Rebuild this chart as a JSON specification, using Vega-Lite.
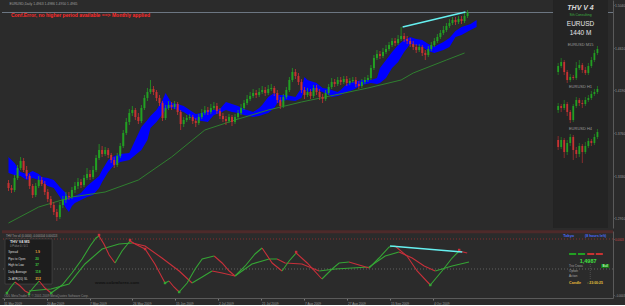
{
  "$schema": "https://vega.github.io/schema/vega-lite/v6.json",
  "background": "#2b2b2b",
  "padding": 0,
  "spacing": 2,
  "config": {
    "view": {"stroke": null},
    "font": "Liberation Sans",
    "axis": {"grid": false, "labelFont": "Liberation Sans", "labelColor": "#9a9a9a", "tickColor": "#777777", "domainColor": "#5a5a5a"}
  },
  "datasets": {
    "candles": [
      {"i":0,"o":1.326,"h":1.329,"l":1.318,"c":1.321},{"i":1,"o":1.321,"h":1.324,"l":1.316,"c":1.319},{"i":2,"o":1.319,"h":1.334,"l":1.317,"c":1.331},{"i":3,"o":1.331,"h":1.344,"l":1.329,"c":1.341},{"i":4,"o":1.341,"h":1.352,"l":1.339,"c":1.348},{"i":5,"o":1.348,"h":1.351,"l":1.337,"c":1.339},{"i":6,"o":1.339,"h":1.343,"l":1.330,"c":1.333},{"i":7,"o":1.333,"h":1.335,"l":1.320,"c":1.323},{"i":8,"o":1.323,"h":1.325,"l":1.311,"c":1.314},{"i":9,"o":1.314,"h":1.326,"l":1.312,"c":1.323},
      {"i":10,"o":1.323,"h":1.333,"l":1.321,"c":1.329},{"i":11,"o":1.329,"h":1.332,"l":1.323,"c":1.325},{"i":12,"o":1.325,"h":1.328,"l":1.314,"c":1.317},{"i":13,"o":1.317,"h":1.320,"l":1.307,"c":1.310},{"i":14,"o":1.310,"h":1.313,"l":1.301,"c":1.304},{"i":15,"o":1.304,"h":1.307,"l":1.294,"c":1.297},{"i":16,"o":1.297,"h":1.300,"l":1.288,"c":1.292},{"i":17,"o":1.292,"h":1.307,"l":1.290,"c":1.304},{"i":18,"o":1.304,"h":1.313,"l":1.301,"c":1.309},{"i":19,"o":1.309,"h":1.317,"l":1.306,"c":1.313},
      {"i":20,"o":1.313,"h":1.317,"l":1.309,"c":1.312},{"i":21,"o":1.312,"h":1.322,"l":1.310,"c":1.319},{"i":22,"o":1.319,"h":1.327,"l":1.316,"c":1.323},{"i":23,"o":1.323,"h":1.331,"l":1.320,"c":1.327},{"i":24,"o":1.327,"h":1.330,"l":1.321,"c":1.324},{"i":25,"o":1.324,"h":1.334,"l":1.322,"c":1.331},{"i":26,"o":1.331,"h":1.341,"l":1.329,"c":1.335},{"i":27,"o":1.335,"h":1.339,"l":1.329,"c":1.332},{"i":28,"o":1.332,"h":1.343,"l":1.330,"c":1.339},{"i":29,"o":1.339,"h":1.354,"l":1.337,"c":1.351},
      {"i":30,"o":1.351,"h":1.365,"l":1.349,"c":1.359},{"i":31,"o":1.359,"h":1.363,"l":1.352,"c":1.355},{"i":32,"o":1.355,"h":1.362,"l":1.353,"c":1.359},{"i":33,"o":1.359,"h":1.361,"l":1.351,"c":1.354},{"i":34,"o":1.354,"h":1.356,"l":1.346,"c":1.349},{"i":35,"o":1.349,"h":1.352,"l":1.341,"c":1.344},{"i":36,"o":1.344,"h":1.356,"l":1.342,"c":1.353},{"i":37,"o":1.353,"h":1.366,"l":1.351,"c":1.363},{"i":38,"o":1.363,"h":1.379,"l":1.361,"c":1.376},{"i":39,"o":1.376,"h":1.391,"l":1.374,"c":1.387},
      {"i":40,"o":1.387,"h":1.400,"l":1.384,"c":1.396},{"i":41,"o":1.396,"h":1.403,"l":1.393,"c":1.399},{"i":42,"o":1.399,"h":1.401,"l":1.389,"c":1.392},{"i":43,"o":1.392,"h":1.396,"l":1.385,"c":1.388},{"i":44,"o":1.388,"h":1.404,"l":1.386,"c":1.401},{"i":45,"o":1.401,"h":1.414,"l":1.399,"c":1.411},{"i":46,"o":1.411,"h":1.421,"l":1.408,"c":1.417},{"i":47,"o":1.417,"h":1.429,"l":1.415,"c":1.420},{"i":48,"o":1.420,"h":1.423,"l":1.414,"c":1.417},{"i":49,"o":1.417,"h":1.419,"l":1.408,"c":1.411},
      {"i":50,"o":1.411,"h":1.414,"l":1.403,"c":1.406},{"i":51,"o":1.406,"h":1.408,"l":1.388,"c":1.391},{"i":52,"o":1.391,"h":1.404,"l":1.389,"c":1.401},{"i":53,"o":1.401,"h":1.408,"l":1.399,"c":1.404},{"i":54,"o":1.404,"h":1.407,"l":1.399,"c":1.402},{"i":55,"o":1.402,"h":1.408,"l":1.400,"c":1.405},{"i":56,"o":1.405,"h":1.407,"l":1.394,"c":1.397},{"i":57,"o":1.397,"h":1.399,"l":1.379,"c":1.385},{"i":58,"o":1.385,"h":1.392,"l":1.382,"c":1.389},{"i":59,"o":1.389,"h":1.394,"l":1.387,"c":1.391},
      {"i":60,"o":1.391,"h":1.395,"l":1.389,"c":1.392},{"i":61,"o":1.392,"h":1.394,"l":1.385,"c":1.388},{"i":62,"o":1.388,"h":1.391,"l":1.382,"c":1.386},{"i":63,"o":1.386,"h":1.395,"l":1.384,"c":1.392},{"i":64,"o":1.392,"h":1.400,"l":1.390,"c":1.396},{"i":65,"o":1.396,"h":1.403,"l":1.394,"c":1.399},{"i":66,"o":1.399,"h":1.402,"l":1.394,"c":1.397},{"i":67,"o":1.397,"h":1.405,"l":1.395,"c":1.401},{"i":68,"o":1.401,"h":1.407,"l":1.399,"c":1.403},{"i":69,"o":1.403,"h":1.406,"l":1.395,"c":1.398},
      {"i":70,"o":1.398,"h":1.401,"l":1.390,"c":1.393},{"i":71,"o":1.393,"h":1.396,"l":1.387,"c":1.390},{"i":72,"o":1.390,"h":1.393,"l":1.384,"c":1.388},{"i":73,"o":1.388,"h":1.395,"l":1.386,"c":1.392},{"i":74,"o":1.392,"h":1.394,"l":1.383,"c":1.387},{"i":75,"o":1.387,"h":1.395,"l":1.385,"c":1.392},{"i":76,"o":1.392,"h":1.399,"l":1.390,"c":1.396},{"i":77,"o":1.396,"h":1.405,"l":1.394,"c":1.401},{"i":78,"o":1.401,"h":1.409,"l":1.399,"c":1.406},{"i":79,"o":1.406,"h":1.414,"l":1.404,"c":1.410},
      {"i":80,"o":1.410,"h":1.417,"l":1.408,"c":1.413},{"i":81,"o":1.413,"h":1.420,"l":1.411,"c":1.416},{"i":82,"o":1.416,"h":1.419,"l":1.411,"c":1.414},{"i":83,"o":1.414,"h":1.421,"l":1.412,"c":1.417},{"i":84,"o":1.417,"h":1.423,"l":1.415,"c":1.419},{"i":85,"o":1.419,"h":1.422,"l":1.413,"c":1.416},{"i":86,"o":1.416,"h":1.424,"l":1.414,"c":1.420},{"i":87,"o":1.420,"h":1.425,"l":1.418,"c":1.421},{"i":88,"o":1.421,"h":1.423,"l":1.413,"c":1.416},{"i":89,"o":1.416,"h":1.419,"l":1.406,"c":1.409},
      {"i":90,"o":1.409,"h":1.412,"l":1.400,"c":1.403},{"i":91,"o":1.403,"h":1.415,"l":1.401,"c":1.412},{"i":92,"o":1.412,"h":1.422,"l":1.410,"c":1.419},{"i":93,"o":1.419,"h":1.432,"l":1.417,"c":1.429},{"i":94,"o":1.429,"h":1.441,"l":1.427,"c":1.437},{"i":95,"o":1.437,"h":1.440,"l":1.430,"c":1.433},{"i":96,"o":1.433,"h":1.436,"l":1.424,"c":1.427},{"i":97,"o":1.427,"h":1.430,"l":1.416,"c":1.419},{"i":98,"o":1.419,"h":1.422,"l":1.410,"c":1.414},{"i":99,"o":1.414,"h":1.421,"l":1.412,"c":1.417},
      {"i":100,"o":1.417,"h":1.420,"l":1.410,"c":1.413},{"i":101,"o":1.413,"h":1.424,"l":1.411,"c":1.421},{"i":102,"o":1.421,"h":1.424,"l":1.414,"c":1.417},{"i":103,"o":1.417,"h":1.420,"l":1.409,"c":1.412},{"i":104,"o":1.412,"h":1.415,"l":1.406,"c":1.410},{"i":105,"o":1.410,"h":1.419,"l":1.408,"c":1.416},{"i":106,"o":1.416,"h":1.425,"l":1.414,"c":1.422},{"i":107,"o":1.422,"h":1.431,"l":1.420,"c":1.427},{"i":108,"o":1.427,"h":1.430,"l":1.422,"c":1.425},{"i":109,"o":1.425,"h":1.432,"l":1.423,"c":1.429},
      {"i":110,"o":1.429,"h":1.432,"l":1.424,"c":1.427},{"i":111,"o":1.427,"h":1.433,"l":1.425,"c":1.430},{"i":112,"o":1.430,"h":1.433,"l":1.423,"c":1.426},{"i":113,"o":1.426,"h":1.431,"l":1.424,"c":1.428},{"i":114,"o":1.428,"h":1.432,"l":1.426,"c":1.429},{"i":115,"o":1.429,"h":1.432,"l":1.422,"c":1.425},{"i":116,"o":1.425,"h":1.428,"l":1.420,"c":1.423},{"i":117,"o":1.423,"h":1.430,"l":1.421,"c":1.427},{"i":118,"o":1.427,"h":1.432,"l":1.425,"c":1.429},{"i":119,"o":1.429,"h":1.434,"l":1.427,"c":1.431},
      {"i":120,"o":1.431,"h":1.444,"l":1.429,"c":1.441},{"i":121,"o":1.441,"h":1.454,"l":1.439,"c":1.451},{"i":122,"o":1.451,"h":1.459,"l":1.449,"c":1.455},{"i":123,"o":1.455,"h":1.458,"l":1.450,"c":1.453},{"i":124,"o":1.453,"h":1.461,"l":1.451,"c":1.457},{"i":125,"o":1.457,"h":1.464,"l":1.455,"c":1.460},{"i":126,"o":1.460,"h":1.467,"l":1.458,"c":1.464},{"i":127,"o":1.464,"h":1.471,"l":1.462,"c":1.468},{"i":128,"o":1.468,"h":1.471,"l":1.463,"c":1.466},{"i":129,"o":1.466,"h":1.474,"l":1.464,"c":1.470},
      {"i":130,"o":1.470,"h":1.482,"l":1.468,"c":1.473},{"i":131,"o":1.473,"h":1.476,"l":1.467,"c":1.470},{"i":132,"o":1.470,"h":1.473,"l":1.465,"c":1.468},{"i":133,"o":1.468,"h":1.471,"l":1.462,"c":1.465},{"i":134,"o":1.465,"h":1.468,"l":1.459,"c":1.462},{"i":135,"o":1.462,"h":1.465,"l":1.456,"c":1.459},{"i":136,"o":1.459,"h":1.465,"l":1.457,"c":1.462},{"i":137,"o":1.462,"h":1.464,"l":1.453,"c":1.456},{"i":138,"o":1.456,"h":1.459,"l":1.449,"c":1.454},{"i":139,"o":1.454,"h":1.463,"l":1.452,"c":1.460},
      {"i":140,"o":1.460,"h":1.467,"l":1.458,"c":1.464},{"i":141,"o":1.464,"h":1.471,"l":1.462,"c":1.468},{"i":142,"o":1.468,"h":1.475,"l":1.466,"c":1.472},{"i":143,"o":1.472,"h":1.479,"l":1.470,"c":1.476},{"i":144,"o":1.476,"h":1.483,"l":1.474,"c":1.479},{"i":145,"o":1.479,"h":1.486,"l":1.477,"c":1.483},{"i":146,"o":1.483,"h":1.490,"l":1.481,"c":1.486},{"i":147,"o":1.486,"h":1.492,"l":1.484,"c":1.489},{"i":148,"o":1.489,"h":1.492,"l":1.484,"c":1.487},{"i":149,"o":1.487,"h":1.493,"l":1.485,"c":1.490},
      {"i":150,"o":1.490,"h":1.493,"l":1.485,"c":1.488},{"i":151,"o":1.488,"h":1.496,"l":1.486,"c":1.493},{"i":152,"o":1.493,"h":1.499,"l":1.491,"c":1.4965}
    ],
    "cloud": [
      {"i":0,"t":1.352,"b":1.336},{"i":2,"t":1.346,"b":1.334},{"i":4,"t":1.337,"b":1.333},{"i":6,"t":1.335,"b":1.329},{"i":8,"t":1.338,"b":1.331},{"i":10,"t":1.335,"b":1.329},{"i":11,"t":1.332,"b":1.327},{"i":13,"t":1.331,"b":1.323},{"i":15,"t":1.329,"b":1.321},{"i":17,"t":1.322,"b":1.312},
      {"i":19,"t":1.316,"b":1.301},{"i":20,"t":1.311,"b":1.297},{"i":21,"t":1.312,"b":1.303},{"i":22,"t":1.313,"b":1.306},{"i":24,"t":1.316,"b":1.309},{"i":26,"t":1.323,"b":1.312},{"i":28,"t":1.328,"b":1.314},{"i":30,"t":1.333,"b":1.321},{"i":31,"t":1.339,"b":1.327},{"i":33,"t":1.349,"b":1.337},
      {"i":35,"t":1.353,"b":1.344},{"i":37,"t":1.355,"b":1.347},{"i":40,"t":1.356,"b":1.349},{"i":42,"t":1.369,"b":1.354},{"i":44,"t":1.382,"b":1.359},{"i":46,"t":1.389,"b":1.369},{"i":47,"t":1.393,"b":1.381},{"i":49,"t":1.399,"b":1.387},{"i":51,"t":1.409,"b":1.395},{"i":52,"t":1.416,"b":1.399},
      {"i":53,"t":1.411,"b":1.401},{"i":54,"t":1.406,"b":1.401},{"i":56,"t":1.405,"b":1.399},{"i":58,"t":1.403,"b":1.397},{"i":60,"t":1.399,"b":1.393},{"i":62,"t":1.395,"b":1.389},{"i":64,"t":1.396,"b":1.388},{"i":66,"t":1.399,"b":1.387},{"i":68,"t":1.399,"b":1.394},{"i":70,"t":1.400,"b":1.396},
      {"i":72,"t":1.407,"b":1.399},{"i":74,"t":1.405,"b":1.397},{"i":76,"t":1.403,"b":1.396},{"i":78,"t":1.400,"b":1.394},{"i":81,"t":1.397,"b":1.392},{"i":83,"t":1.401,"b":1.393},{"i":84,"t":1.404,"b":1.394},{"i":86,"t":1.412,"b":1.396},{"i":88,"t":1.416,"b":1.401},{"i":89,"t":1.414,"b":1.406},
      {"i":92,"t":1.414,"b":1.409},{"i":95,"t":1.412,"b":1.408},{"i":97,"t":1.421,"b":1.411},{"i":98,"t":1.432,"b":1.419},{"i":99,"t":1.429,"b":1.417},{"i":102,"t":1.426,"b":1.419},{"i":104,"t":1.421,"b":1.417},{"i":106,"t":1.420,"b":1.414},{"i":107,"t":1.419,"b":1.412},{"i":109,"t":1.417,"b":1.413},
      {"i":110,"t":1.419,"b":1.414},{"i":112,"t":1.425,"b":1.417},{"i":114,"t":1.427,"b":1.419},{"i":117,"t":1.429,"b":1.424},{"i":120,"t":1.429,"b":1.426},{"i":122,"t":1.431,"b":1.425},{"i":123,"t":1.441,"b":1.426},{"i":125,"t":1.449,"b":1.431},{"i":127,"t":1.457,"b":1.441},{"i":129,"t":1.464,"b":1.447},
      {"i":131,"t":1.469,"b":1.457},{"i":133,"t":1.472,"b":1.465},{"i":135,"t":1.470,"b":1.464},{"i":137,"t":1.469,"b":1.462},{"i":139,"t":1.465,"b":1.458},{"i":141,"t":1.462,"b":1.456},{"i":142,"t":1.464,"b":1.457},{"i":144,"t":1.467,"b":1.459},{"i":146,"t":1.471,"b":1.462},{"i":148,"t":1.478,"b":1.472},
      {"i":150,"t":1.482,"b":1.474},{"i":153,"t":1.485,"b":1.479},{"i":155,"t":1.489,"b":1.482}
    ],
    "ma": [
      {"i":0,"v":1.286},{"i":10,"v":1.302},{"i":21,"v":1.312},{"i":32,"v":1.317},{"i":43,"v":1.329},{"i":54,"v":1.352},{"i":65,"v":1.379},{"i":75,"v":1.389},{"i":86,"v":1.399},{"i":97,"v":1.407},{"i":108,"v":1.414},{"i":119,"v":1.421},{"i":130,"v":1.429},{"i":134,"v":1.436},{"i":145,"v":1.449},{"i":151,"v":1.456}
    ],
    "mini": [
      {"tf":"M15","i":182,"o":1.437,"h":1.446,"l":1.434,"c":1.443},{"tf":"M15","i":183,"o":1.443,"h":1.451,"l":1.441,"c":1.447},{"tf":"M15","i":184,"o":1.447,"h":1.449,"l":1.434,"c":1.437},{"tf":"M15","i":185,"o":1.437,"h":1.439,"l":1.426,"c":1.429},{"tf":"M15","i":186,"o":1.429,"h":1.435,"l":1.427,"c":1.432},{"tf":"M15","i":187,"o":1.432,"h":1.434,"l":1.429,"c":1.431},{"tf":"M15","i":188,"o":1.431,"h":1.447,"l":1.429,"c":1.441},
      {"tf":"M15","i":189,"o":1.441,"h":1.449,"l":1.439,"c":1.444},{"tf":"M15","i":190,"o":1.444,"h":1.446,"l":1.436,"c":1.439},{"tf":"M15","i":191,"o":1.439,"h":1.442,"l":1.434,"c":1.436},{"tf":"M15","i":192,"o":1.436,"h":1.446,"l":1.434,"c":1.443},{"tf":"M15","i":193,"o":1.443,"h":1.452,"l":1.441,"c":1.449},{"tf":"M15","i":194,"o":1.449,"h":1.459,"l":1.447,"c":1.456},{"tf":"M15","i":195,"o":1.456,"h":1.463,"l":1.454,"c":1.460},
      {"tf":"H1","i":182,"o":1.399,"h":1.406,"l":1.396,"c":1.403},{"tf":"H1","i":183,"o":1.403,"h":1.405,"l":1.397,"c":1.401},{"tf":"H1","i":184,"o":1.401,"h":1.409,"l":1.399,"c":1.405},{"tf":"H1","i":185,"o":1.405,"h":1.407,"l":1.393,"c":1.397},{"tf":"H1","i":186,"o":1.397,"h":1.399,"l":1.386,"c":1.389},{"tf":"H1","i":187,"o":1.389,"h":1.405,"l":1.387,"c":1.403},{"tf":"H1","i":188,"o":1.403,"h":1.412,"l":1.401,"c":1.409},
      {"tf":"H1","i":189,"o":1.409,"h":1.411,"l":1.403,"c":1.406},{"tf":"H1","i":190,"o":1.406,"h":1.409,"l":1.401,"c":1.405},{"tf":"H1","i":191,"o":1.405,"h":1.412,"l":1.403,"c":1.409},{"tf":"H1","i":192,"o":1.409,"h":1.414,"l":1.407,"c":1.411},{"tf":"H1","i":193,"o":1.411,"h":1.418,"l":1.409,"c":1.415},{"tf":"H1","i":194,"o":1.415,"h":1.420,"l":1.413,"c":1.417},{"tf":"H1","i":195,"o":1.417,"h":1.423,"l":1.415,"c":1.420},
      {"tf":"H4","i":182,"o":1.369,"h":1.373,"l":1.359,"c":1.362},{"tf":"H4","i":183,"o":1.362,"h":1.372,"l":1.360,"c":1.369},{"tf":"H4","i":184,"o":1.369,"h":1.371,"l":1.351,"c":1.357},{"tf":"H4","i":185,"o":1.357,"h":1.369,"l":1.354,"c":1.366},{"tf":"H4","i":186,"o":1.366,"h":1.375,"l":1.363,"c":1.372},{"tf":"H4","i":187,"o":1.372,"h":1.374,"l":1.349,"c":1.359},{"tf":"H4","i":188,"o":1.359,"h":1.362,"l":1.351,"c":1.355},
      {"tf":"H4","i":189,"o":1.355,"h":1.366,"l":1.352,"c":1.363},{"tf":"H4","i":190,"o":1.363,"h":1.365,"l":1.346,"c":1.357},{"tf":"H4","i":191,"o":1.357,"h":1.367,"l":1.355,"c":1.363},{"tf":"H4","i":192,"o":1.363,"h":1.371,"l":1.361,"c":1.368},{"tf":"H4","i":193,"o":1.368,"h":1.370,"l":1.363,"c":1.366},{"tf":"H4","i":194,"o":1.366,"h":1.375,"l":1.364,"c":1.372},{"tf":"H4","i":195,"o":1.372,"h":1.380,"l":1.370,"c":1.377}
    ],
    "fast": [
      {"seg":1,"dir":"up","i":1.1,"v":-0.00024},{"seg":1,"dir":"up","i":2.4,"v":-0.00018},{"seg":1,"dir":"up","i":3.7,"v":-0.00013},
      {"seg":2,"dir":"down","i":3.7,"v":-0.00013},{"seg":2,"dir":"down","i":5.4,"v":-0.00017},{"seg":2,"dir":"down","i":7.0,"v":-0.00022},{"seg":2,"dir":"down","i":8.3,"v":-0.00024},
      {"seg":3,"dir":"up","i":8.3,"v":-0.00024},{"seg":3,"dir":"up","i":9.9,"v":-0.00018},{"seg":3,"dir":"up","i":11.6,"v":-0.00012},
      {"seg":4,"dir":"down","i":11.6,"v":-0.00012},{"seg":4,"dir":"down","i":13.5,"v":-0.00019},{"seg":4,"dir":"down","i":15.5,"v":-0.00024},
      {"seg":5,"dir":"up","i":15.5,"v":-0.00024},{"seg":5,"dir":"up","i":19.1,"v":-0.00016},{"seg":5,"dir":"up","i":22.3,"v":-0.00004},{"seg":5,"dir":"up","i":25.6,"v":0.0001},{"seg":5,"dir":"up","i":28.2,"v":0.00023},{"seg":5,"dir":"up","i":30.1,"v":0.00031},{"seg":5,"dir":"up","i":31.1,"v":0.00033},
      {"seg":6,"dir":"down","i":31.1,"v":0.00033},{"seg":6,"dir":"down","i":32.7,"v":0.00025},{"seg":6,"dir":"down","i":34.4,"v":0.00014},{"seg":6,"dir":"down","i":36.3,"v":0.00006},
      {"seg":7,"dir":"up","i":36.3,"v":0.00006},{"seg":7,"dir":"up","i":38.6,"v":0.00018},{"seg":7,"dir":"up","i":41.2,"v":0.00028},
      {"seg":8,"dir":"down","i":41.2,"v":0.00028},{"seg":8,"dir":"down","i":43.5,"v":0.00024},{"seg":8,"dir":"down","i":46.1,"v":0.0002},{"seg":8,"dir":"down","i":49.3,"v":0.00005},{"seg":8,"dir":"down","i":52.6,"v":-0.00014},
      {"seg":9,"dir":"up","i":52.6,"v":-0.00014},{"seg":9,"dir":"up","i":53.9,"v":-0.00012},
      {"seg":10,"dir":"down","i":53.9,"v":-0.00012},{"seg":10,"dir":"down","i":55.5,"v":-0.00018},{"seg":10,"dir":"down","i":57.2,"v":-0.00023},
      {"seg":11,"dir":"up","i":57.2,"v":-0.00023},{"seg":11,"dir":"up","i":59.8,"v":-0.00014},{"seg":11,"dir":"up","i":62.4,"v":0.0},{"seg":11,"dir":"up","i":64.7,"v":0.0001},{"seg":11,"dir":"up","i":68.6,"v":0.00013},
      {"seg":12,"dir":"down","i":68.6,"v":0.00013},{"seg":12,"dir":"down","i":71.2,"v":0.00006},{"seg":12,"dir":"down","i":73.5,"v":-0.00002},{"seg":12,"dir":"down","i":75.4,"v":-0.00007},
      {"seg":13,"dir":"up","i":75.4,"v":-0.00007},{"seg":13,"dir":"up","i":78.7,"v":0.00003},{"seg":13,"dir":"up","i":81.9,"v":0.00015},{"seg":13,"dir":"up","i":84.2,"v":0.00021},
      {"seg":14,"dir":"down","i":84.2,"v":0.00021},{"seg":14,"dir":"down","i":87.5,"v":0.00006},{"seg":14,"dir":"down","i":90.7,"v":-0.00002},
      {"seg":15,"dir":"up","i":90.7,"v":-0.00002},{"seg":15,"dir":"up","i":93.0,"v":0.00008},{"seg":15,"dir":"up","i":95.3,"v":0.00016},
      {"seg":16,"dir":"down","i":95.3,"v":0.00016},{"seg":16,"dir":"down","i":98.9,"v":0.00006},{"seg":16,"dir":"down","i":103.7,"v":-0.0001},
      {"seg":17,"dir":"up","i":103.7,"v":-0.0001},{"seg":17,"dir":"up","i":107.0,"v":0.0},{"seg":17,"dir":"up","i":109.3,"v":0.00006},{"seg":17,"dir":"up","i":112.5,"v":0.00007},
      {"seg":18,"dir":"down","i":112.5,"v":0.00007},{"seg":18,"dir":"down","i":115.8,"v":0.00004},{"seg":18,"dir":"down","i":119.1,"v":0.00001},
      {"seg":19,"dir":"up","i":119.1,"v":0.00001},{"seg":19,"dir":"up","i":122.3,"v":0.00011},{"seg":19,"dir":"up","i":125.6,"v":0.00022},{"seg":19,"dir":"up","i":127.5,"v":0.00023},
      {"seg":20,"dir":"down","i":127.5,"v":0.00023},{"seg":20,"dir":"down","i":131.4,"v":0.00013},{"seg":20,"dir":"down","i":134.7,"v":-0.00002},{"seg":20,"dir":"down","i":139.0,"v":-0.00016},
      {"seg":21,"dir":"up","i":139.0,"v":-0.00016},{"seg":21,"dir":"up","i":142.8,"v":-0.00002},{"seg":21,"dir":"up","i":146.1,"v":0.00011},{"seg":21,"dir":"up","i":148.4,"v":0.00018},
      {"seg":22,"dir":"down","i":148.4,"v":0.00018},{"seg":22,"dir":"down","i":151.0,"v":0.00016}
    ],
    "slow": [
      {"seg":1,"dir":"up","i":8.3,"v":-0.00022},{"seg":1,"dir":"up","i":11.6,"v":-0.00021},{"seg":1,"dir":"up","i":15.5,"v":-0.0002},{"seg":1,"dir":"up","i":21.3,"v":-0.00015},{"seg":1,"dir":"up","i":26.5,"v":0.00005},{"seg":1,"dir":"up","i":32.1,"v":0.0002},{"seg":1,"dir":"up","i":37.6,"v":0.00025},{"seg":1,"dir":"up","i":41.9,"v":0.00026},
      {"seg":2,"dir":"down","i":41.9,"v":0.00026},{"seg":2,"dir":"down","i":46.1,"v":0.00023},{"seg":2,"dir":"down","i":51.6,"v":0.00011},{"seg":2,"dir":"down","i":57.2,"v":-0.00002},{"seg":2,"dir":"down","i":61.4,"v":-0.00014},
      {"seg":3,"dir":"up","i":61.4,"v":-0.00014},{"seg":3,"dir":"up","i":64.7,"v":-0.00008},{"seg":3,"dir":"up","i":67.9,"v":-0.00002},
      {"seg":4,"dir":"down","i":67.9,"v":-0.00002},{"seg":4,"dir":"down","i":71.2,"v":-0.00004},{"seg":4,"dir":"down","i":75.4,"v":-0.00007},
      {"seg":5,"dir":"up","i":75.4,"v":-0.00007},{"seg":5,"dir":"up","i":80.9,"v":0.00005},{"seg":5,"dir":"up","i":86.5,"v":0.0001},{"seg":5,"dir":"up","i":89.1,"v":0.0001},
      {"seg":6,"dir":"down","i":89.1,"v":0.0001},{"seg":6,"dir":"down","i":91.7,"v":0.00006},{"seg":6,"dir":"down","i":97.2,"v":0.00005},{"seg":6,"dir":"down","i":102.8,"v":-0.00002},
      {"seg":7,"dir":"up","i":102.8,"v":-0.00002},{"seg":7,"dir":"up","i":108.0,"v":0.0},{"seg":7,"dir":"up","i":113.5,"v":0.00001},{"seg":7,"dir":"up","i":119.1,"v":0.00002},{"seg":7,"dir":"up","i":124.3,"v":0.00013},{"seg":7,"dir":"up","i":128.8,"v":0.00017},
      {"seg":8,"dir":"down","i":128.8,"v":0.00017},{"seg":8,"dir":"down","i":133.1,"v":0.00011},{"seg":8,"dir":"down","i":137.0,"v":0.00003},{"seg":8,"dir":"down","i":140.6,"v":-0.00002},
      {"seg":9,"dir":"up","i":140.6,"v":-0.00002},{"seg":9,"dir":"up","i":146.1,"v":0.00003},{"seg":9,"dir":"up","i":151.6,"v":0.00007}
    ],
    "marks": [
      {"dir":"up","i":1.1,"v":-0.00024},{"dir":"up","i":8.3,"v":-0.00025},{"dir":"up","i":15.5,"v":-0.00024},{"dir":"up","i":52.6,"v":-0.00014},{"dir":"up","i":57.2,"v":-0.00023},{"dir":"up","i":139.0,"v":-0.00016},
      {"dir":"down","i":31.1,"v":0.00034},{"dir":"down","i":41.2,"v":0.00029},{"dir":"down","i":46.1,"v":0.0002},{"dir":"down","i":95.3,"v":0.00017},{"dir":"down","i":148.4,"v":0.00019}
    ]
  },
  "vconcat": [
    {
      "width": 611,
      "height": 228,
      "layer": [
        {
          "data": {"values": [{}]},
          "mark": {"type": "rule", "color": "#7d8a99", "strokeWidth": 0.8},
          "encoding": {"y": {"datum": 1.4965, "type": "quantitative", "scale": {"domain": [1.281, 1.509], "nice": false, "zero": false}}}
        },
        {
          "data": {"values": [{}]},
          "mark": {"type": "rect", "color": "#242424"},
          "encoding": {
            "x": {"datum": 180.3, "type": "quantitative", "scale": {"domain": [-0.5, 198.5], "nice": false, "zero": false}, "axis": null},
            "x2": {"datum": 198.5},
            "y": {"datum": 1.281, "type": "quantitative", "scale": {"domain": [1.281, 1.509], "nice": false, "zero": false}},
            "y2": {"datum": 1.509}
          }
        },
        {
          "data": {"name": "cloud"},
          "mark": {"type": "area", "color": "#0000ff", "opacity": 1},
          "encoding": {
            "x": {"field": "i", "type": "quantitative", "scale": {"domain": [-0.5, 198.5], "nice": false, "zero": false}, "axis": null},
            "y": {"field": "t", "type": "quantitative", "scale": {"domain": [1.281, 1.509], "nice": false, "zero": false}},
            "y2": {"field": "b"}
          }
        },
        {
          "data": {"name": "ma"},
          "mark": {"type": "line", "color": "#2f7f2f", "strokeWidth": 1},
          "encoding": {
            "x": {"field": "i", "type": "quantitative", "scale": {"domain": [-0.5, 198.5], "nice": false, "zero": false}, "axis": null},
            "y": {"field": "v", "type": "quantitative", "scale": {"domain": [1.281, 1.509], "nice": false, "zero": false}}
          }
        },
        {
          "data": {"name": "candles"},
          "mark": {"type": "rule", "strokeWidth": 0.8},
          "encoding": {
            "x": {"field": "i", "type": "quantitative", "scale": {"domain": [-0.5, 198.5], "nice": false, "zero": false}, "axis": null},
            "y": {"field": "l", "type": "quantitative", "scale": {"domain": [1.281, 1.509], "nice": false, "zero": false},
              "axis": {"orient": "right", "title": null, "values": [1.504, 1.4965, 1.483, 1.472, 1.461, 1.45, 1.44, 1.429, 1.419, 1.408, 1.397, 1.386, 1.376, 1.365, 1.355, 1.344, 1.333, 1.323, 1.312, 1.302, 1.291],
                "format": ".4f", "labelFontSize": 3.4, "tickSize": 1, "labelPadding": 0.5, "labelOverlap": false, "labelBound": false, "labelFlush": false,
                "labelColor": {"condition": {"test": "datum.value == 1.4965", "value": "#ffffff"}, "value": "#9a9a9a"}}},
            "y2": {"field": "h"},
            "color": {"condition": {"test": "datum.c >= datum.o", "value": "#22a022"}, "value": "#c83232"}
          }
        },
        {
          "data": {"name": "candles"},
          "mark": {"type": "bar", "size": 2},
          "encoding": {
            "x": {"field": "i", "type": "quantitative", "scale": {"domain": [-0.5, 198.5], "nice": false, "zero": false}, "axis": null},
            "y": {"field": "o", "type": "quantitative", "scale": {"domain": [1.281, 1.509], "nice": false, "zero": false}},
            "y2": {"field": "c"},
            "color": {"condition": {"test": "datum.c >= datum.o", "value": "#22a022"}, "value": "#c83232"}
          }
        },
        {
          "data": {"name": "mini"},
          "mark": {"type": "rule", "strokeWidth": 0.6},
          "encoding": {
            "detail": {"field": "tf"},
            "x": {"field": "i", "type": "quantitative", "scale": {"domain": [-0.5, 198.5], "nice": false, "zero": false}, "axis": null},
            "y": {"field": "l", "type": "quantitative", "scale": {"domain": [1.281, 1.509], "nice": false, "zero": false}},
            "y2": {"field": "h"},
            "color": {"condition": {"test": "datum.c >= datum.o", "value": "#22a022"}, "value": "#c83232"}
          }
        },
        {
          "data": {"name": "mini"},
          "mark": {"type": "bar", "size": 1.8},
          "encoding": {
            "detail": {"field": "tf"},
            "x": {"field": "i", "type": "quantitative", "scale": {"domain": [-0.5, 198.5], "nice": false, "zero": false}, "axis": null},
            "y": {"field": "o", "type": "quantitative", "scale": {"domain": [1.281, 1.509], "nice": false, "zero": false}},
            "y2": {"field": "c"},
            "color": {"condition": {"test": "datum.c >= datum.o", "value": "#22a022"}, "value": "#c83232"}
          }
        },
        {
          "data": {"values": [{}]},
          "mark": {"type": "rule", "color": "#66f0f0", "strokeWidth": 1.4},
          "encoding": {
            "x": {"datum": 130.5, "type": "quantitative", "scale": {"domain": [-0.5, 198.5], "nice": false, "zero": false}, "axis": null},
            "x2": {"datum": 151.3},
            "y": {"datum": 1.482, "type": "quantitative", "scale": {"domain": [1.281, 1.509], "nice": false, "zero": false}},
            "y2": {"datum": 1.497}
          }
        },
        {
          "data": {"values": [{}]},
          "mark": {"type": "text", "text": "EURUSD,Daily  1.4963 1.4986 1.4950 1.4965", "align": "left", "baseline": "middle", "fontSize": 3.4, "color": "#a0a0a0"},
          "encoding": {
            "x": {"datum": 0.3, "type": "quantitative", "scale": {"domain": [-0.5, 198.5], "nice": false, "zero": false}, "axis": null},
            "y": {"datum": 1.505, "type": "quantitative", "scale": {"domain": [1.281, 1.509], "nice": false, "zero": false}}
          }
        },
        {
          "data": {"values": [{}]},
          "mark": {"type": "text", "text": "Conf.Error, no higher period available ==> Monthly applied", "align": "left", "baseline": "middle", "fontSize": 5, "fontWeight": "bold", "color": "#ff2a2a"},
          "encoding": {
            "x": {"datum": 0.8, "type": "quantitative", "scale": {"domain": [-0.5, 198.5], "nice": false, "zero": false}, "axis": null},
            "y": {"datum": 1.4945, "type": "quantitative", "scale": {"domain": [1.281, 1.509], "nice": false, "zero": false}}
          }
        },
        {
          "data": {"values": [{}]},
          "mark": {"type": "text", "text": "THV V 4", "align": "center", "baseline": "middle", "fontSize": 7, "fontWeight": "bold", "fontStyle": "italic", "color": "#d8d8d8"},
          "encoding": {
            "x": {"datum": 189.4, "type": "quantitative", "scale": {"domain": [-0.5, 198.5], "nice": false, "zero": false}, "axis": null},
            "y": {"datum": 1.501, "type": "quantitative", "scale": {"domain": [1.281, 1.509], "nice": false, "zero": false}}
          }
        },
        {
          "data": {"values": [{}]},
          "mark": {"type": "text", "text": "Sth Consulting", "align": "center", "baseline": "middle", "fontSize": 3.4, "color": "#3cb043"},
          "encoding": {
            "x": {"datum": 189.4, "type": "quantitative", "scale": {"domain": [-0.5, 198.5], "nice": false, "zero": false}, "axis": null},
            "y": {"datum": 1.494, "type": "quantitative", "scale": {"domain": [1.281, 1.509], "nice": false, "zero": false}}
          }
        },
        {
          "data": {"values": [{}]},
          "mark": {"type": "text", "text": "EURUSD", "align": "center", "baseline": "middle", "fontSize": 6.5, "color": "#e6e6e6"},
          "encoding": {
            "x": {"datum": 189.4, "type": "quantitative", "scale": {"domain": [-0.5, 198.5], "nice": false, "zero": false}, "axis": null},
            "y": {"datum": 1.485, "type": "quantitative", "scale": {"domain": [1.281, 1.509], "nice": false, "zero": false}}
          }
        },
        {
          "data": {"values": [{}]},
          "mark": {"type": "text", "text": "1440 M", "align": "center", "baseline": "middle", "fontSize": 6.5, "color": "#e6e6e6"},
          "encoding": {
            "x": {"datum": 189.4, "type": "quantitative", "scale": {"domain": [-0.5, 198.5], "nice": false, "zero": false}, "axis": null},
            "y": {"datum": 1.476, "type": "quantitative", "scale": {"domain": [1.281, 1.509], "nice": false, "zero": false}}
          }
        },
        {
          "data": {"values": [{}]},
          "mark": {"type": "text", "text": "EURUSD M15", "align": "center", "baseline": "middle", "fontSize": 4, "color": "#9a9a9a"},
          "encoding": {
            "x": {"datum": 189.4, "type": "quantitative", "scale": {"domain": [-0.5, 198.5], "nice": false, "zero": false}, "axis": null},
            "y": {"datum": 1.464, "type": "quantitative", "scale": {"domain": [1.281, 1.509], "nice": false, "zero": false}}
          }
        },
        {
          "data": {"values": [{}]},
          "mark": {"type": "text", "text": "EURUSD H1", "align": "center", "baseline": "middle", "fontSize": 4, "color": "#9a9a9a"},
          "encoding": {
            "x": {"datum": 189.4, "type": "quantitative", "scale": {"domain": [-0.5, 198.5], "nice": false, "zero": false}, "axis": null},
            "y": {"datum": 1.422, "type": "quantitative", "scale": {"domain": [1.281, 1.509], "nice": false, "zero": false}}
          }
        },
        {
          "data": {"values": [{}]},
          "mark": {"type": "text", "text": "EURUSD H4", "align": "center", "baseline": "middle", "fontSize": 4, "color": "#9a9a9a"},
          "encoding": {
            "x": {"datum": 189.4, "type": "quantitative", "scale": {"domain": [-0.5, 198.5], "nice": false, "zero": false}, "axis": null},
            "y": {"datum": 1.38, "type": "quantitative", "scale": {"domain": [1.281, 1.509], "nice": false, "zero": false}}
          }
        }
      ]
    },
    {
      "width": 611,
      "height": 67,
      "layer": [
        {
          "data": {"values": [{}]},
          "mark": {"type": "rule", "color": "#4e2a2a", "strokeWidth": 3},
          "encoding": {"y": {"datum": 0.000372, "type": "quantitative", "scale": {"domain": [-0.00029, 0.00038], "nice": false, "zero": false},
            "axis": {"orient": "right", "title": null, "values": [0.0003, 0, -0.00026], "format": ".4f", "labelFontSize": 2.8, "tickSize": 1, "labelPadding": 0.5, "labelOverlap": false, "labelFlush": false,
              "labelColor": {"condition": {"test": "datum.value > 0", "value": "#d04848"}, "value": "#9a9a9a"}}}}
        },
        {
          "data": {"values": [{}]},
          "mark": {"type": "rule", "color": "#a03030", "strokeWidth": 0.8, "strokeDash": [1, 2]},
          "encoding": {"y": {"datum": 0.0003, "type": "quantitative", "scale": {"domain": [-0.00029, 0.00038], "nice": false, "zero": false}}}
        },
        {
          "data": {"values": [{}]},
          "mark": {"type": "rule", "color": "#707070", "strokeWidth": 0.8, "strokeDash": [1, 2]},
          "encoding": {"y": {"datum": 0, "type": "quantitative", "scale": {"domain": [-0.00029, 0.00038], "nice": false, "zero": false}}}
        },
        {
          "data": {"values": [{}]},
          "mark": {"type": "rect", "fill": "#1d1d1d", "stroke": "#555555", "strokeWidth": 0.5},
          "encoding": {
            "x": {"datum": 0.5, "type": "quantitative", "scale": {"domain": [-0.5, 198.5], "nice": false, "zero": false}},
            "x2": {"datum": 15.8},
            "y": {"datum": 0.0003, "type": "quantitative", "scale": {"domain": [-0.00029, 0.00038], "nice": false, "zero": false}},
            "y2": {"datum": -0.00015}
          }
        },
        {
          "data": {"name": "slow"},
          "mark": {"type": "line", "strokeWidth": 1.1},
          "encoding": {
            "x": {"field": "i", "type": "quantitative", "scale": {"domain": [-0.5, 198.5], "nice": false, "zero": false}},
            "y": {"field": "v", "type": "quantitative", "scale": {"domain": [-0.00029, 0.00038], "nice": false, "zero": false}},
            "detail": {"field": "seg"},
            "color": {"field": "dir", "type": "nominal", "scale": {"domain": ["up", "down"], "range": ["#35a535", "#c8303a"]}, "legend": null}
          }
        },
        {
          "data": {"name": "fast"},
          "mark": {"type": "line", "strokeWidth": 1.1},
          "encoding": {
            "x": {"field": "i", "type": "quantitative", "scale": {"domain": [-0.5, 198.5], "nice": false, "zero": false},
              "axis": {"orient": "bottom", "title": null, "values": [0, 7, 14, 21, 28, 35, 42, 49, 56, 63, 70, 77, 84, 91, 98, 105, 112, 119, 126, 133, 140, 147],
                "labelExpr": "['31 Mar 2009','9 Apr 2009','20 Apr 2009','29 Apr 2009','7 May 2009','18 May 2009','26 May 2009','4 Jun 2009','15 Jun 2009','23 Jun 2009','2 Jul 2009','13 Jul 2009','21 Jul 2009','30 Jul 2009','7 Aug 2009','18 Aug 2009','27 Aug 2009','4 Sep 2009','15 Sep 2009','24 Sep 2009','4 Oct 2009','13 Oct 2009'][round(datum.value/7)]",
                "labelAlign": "left", "labelFontSize": 3.2, "tickSize": 2, "labelPadding": 1, "labelOverlap": false, "labelFlush": false, "labelBound": false}},
            "y": {"field": "v", "type": "quantitative", "scale": {"domain": [-0.00029, 0.00038], "nice": false, "zero": false}},
            "detail": {"field": "seg"},
            "color": {"field": "dir", "type": "nominal", "scale": {"domain": ["up", "down"], "range": ["#35a535", "#c8303a"]}, "legend": null}
          }
        },
        {
          "data": {"name": "marks"},
          "mark": {"type": "point", "shape": "square", "filled": true, "size": 6, "opacity": 1},
          "encoding": {
            "x": {"field": "i", "type": "quantitative", "scale": {"domain": [-0.5, 198.5], "nice": false, "zero": false}},
            "y": {"field": "v", "type": "quantitative", "scale": {"domain": [-0.00029, 0.00038], "nice": false, "zero": false}},
            "color": {"field": "dir", "type": "nominal", "scale": {"domain": ["up", "down"], "range": ["#35a535", "#c8303a"]}, "legend": null}
          }
        },
        {
          "data": {"values": [{}]},
          "mark": {"type": "rule", "color": "#66f0f0", "strokeWidth": 1.4},
          "encoding": {
            "x": {"datum": 125.9, "type": "quantitative", "scale": {"domain": [-0.5, 198.5], "nice": false, "zero": false}},
            "x2": {"datum": 149.4},
            "y": {"datum": 0.00023, "type": "quantitative", "scale": {"domain": [-0.00029, 0.00038], "nice": false, "zero": false}},
            "y2": {"datum": 0.00017}
          }
        },
        {"data": {"values": [{}]}, "mark": {"type": "text", "text": "THV Trix v4 (0.0000) -0.000104 0.000113", "align": "left", "baseline": "middle", "fontSize": 2.8, "color": "#a0a0a0"},
          "encoding": {"x": {"datum": 0.8, "type": "quantitative", "scale": {"domain": [-0.5, 198.5], "nice": false, "zero": false}}, "y": {"datum": 0.00033, "type": "quantitative", "scale": {"domain": [-0.00029, 0.00038], "nice": false, "zero": false}}}},
        {"data": {"values": [{}]}, "mark": {"type": "text", "text": "THV  V4  M5", "align": "left", "baseline": "middle", "fontSize": 3.8, "fontWeight": "bold", "color": "#e0e0e0"},
          "encoding": {"x": {"datum": 2.1, "type": "quantitative", "scale": {"domain": [-0.5, 198.5], "nice": false, "zero": false}}, "y": {"datum": 0.00027, "type": "quantitative", "scale": {"domain": [-0.00029, 0.00038], "nice": false, "zero": false}}}},
        {"data": {"values": [{}]}, "mark": {"type": "text", "text": "0 Pulse 0 / 0 1", "align": "left", "baseline": "middle", "fontSize": 2.8, "color": "#909090"},
          "encoding": {"x": {"datum": 2.1, "type": "quantitative", "scale": {"domain": [-0.5, 198.5], "nice": false, "zero": false}}, "y": {"datum": 0.00023, "type": "quantitative", "scale": {"domain": [-0.00029, 0.00038], "nice": false, "zero": false}}}},
        {"data": {"values": [{}]}, "mark": {"type": "text", "text": "Spread", "align": "left", "baseline": "middle", "fontSize": 3, "color": "#dddddd"},
          "encoding": {"x": {"datum": 1.5, "type": "quantitative", "scale": {"domain": [-0.5, 198.5], "nice": false, "zero": false}}, "y": {"datum": 0.00017, "type": "quantitative", "scale": {"domain": [-0.00029, 0.00038], "nice": false, "zero": false}}}},
        {"data": {"values": [{}]}, "mark": {"type": "text", "text": "Pips to Open", "align": "left", "baseline": "middle", "fontSize": 3, "color": "#dddddd"},
          "encoding": {"x": {"datum": 1.5, "type": "quantitative", "scale": {"domain": [-0.5, 198.5], "nice": false, "zero": false}}, "y": {"datum": 0.0001, "type": "quantitative", "scale": {"domain": [-0.00029, 0.00038], "nice": false, "zero": false}}}},
        {"data": {"values": [{}]}, "mark": {"type": "text", "text": "High to Low", "align": "left", "baseline": "middle", "fontSize": 3, "color": "#dddddd"},
          "encoding": {"x": {"datum": 1.5, "type": "quantitative", "scale": {"domain": [-0.5, 198.5], "nice": false, "zero": false}}, "y": {"datum": 0.00004, "type": "quantitative", "scale": {"domain": [-0.00029, 0.00038], "nice": false, "zero": false}}}},
        {"data": {"values": [{}]}, "mark": {"type": "text", "text": "Daily Average", "align": "left", "baseline": "middle", "fontSize": 3, "color": "#dddddd"},
          "encoding": {"x": {"datum": 1.5, "type": "quantitative", "scale": {"domain": [-0.5, 198.5], "nice": false, "zero": false}}, "y": {"datum": -0.00003, "type": "quantitative", "scale": {"domain": [-0.00029, 0.00038], "nice": false, "zero": false}}}},
        {"data": {"values": [{}]}, "mark": {"type": "text", "text": "2x ATR(20) SL", "align": "left", "baseline": "middle", "fontSize": 3, "color": "#dddddd"},
          "encoding": {"x": {"datum": 1.5, "type": "quantitative", "scale": {"domain": [-0.5, 198.5], "nice": false, "zero": false}}, "y": {"datum": -0.0001, "type": "quantitative", "scale": {"domain": [-0.00029, 0.00038], "nice": false, "zero": false}}}},
        {"data": {"values": [{}]}, "mark": {"type": "text", "text": "1.9", "align": "left", "baseline": "middle", "fontSize": 3.4, "fontWeight": "bold", "color": "#e8a33c"},
          "encoding": {"x": {"datum": 10.3, "type": "quantitative", "scale": {"domain": [-0.5, 198.5], "nice": false, "zero": false}}, "y": {"datum": 0.00017, "type": "quantitative", "scale": {"domain": [-0.00029, 0.00038], "nice": false, "zero": false}}}},
        {"data": {"values": [{}]}, "mark": {"type": "text", "text": "20", "align": "left", "baseline": "middle", "fontSize": 3.4, "fontWeight": "bold", "color": "#3ec43e"},
          "encoding": {"x": {"datum": 10.3, "type": "quantitative", "scale": {"domain": [-0.5, 198.5], "nice": false, "zero": false}}, "y": {"datum": 0.0001, "type": "quantitative", "scale": {"domain": [-0.00029, 0.00038], "nice": false, "zero": false}}}},
        {"data": {"values": [{}]}, "mark": {"type": "text", "text": "37", "align": "left", "baseline": "middle", "fontSize": 3.4, "fontWeight": "bold", "color": "#3ec43e"},
          "encoding": {"x": {"datum": 10.3, "type": "quantitative", "scale": {"domain": [-0.5, 198.5], "nice": false, "zero": false}}, "y": {"datum": 0.00004, "type": "quantitative", "scale": {"domain": [-0.00029, 0.00038], "nice": false, "zero": false}}}},
        {"data": {"values": [{}]}, "mark": {"type": "text", "text": "118", "align": "left", "baseline": "middle", "fontSize": 3.4, "fontWeight": "bold", "color": "#3ec43e"},
          "encoding": {"x": {"datum": 10.3, "type": "quantitative", "scale": {"domain": [-0.5, 198.5], "nice": false, "zero": false}}, "y": {"datum": -0.00003, "type": "quantitative", "scale": {"domain": [-0.00029, 0.00038], "nice": false, "zero": false}}}},
        {"data": {"values": [{}]}, "mark": {"type": "text", "text": "312", "align": "left", "baseline": "middle", "fontSize": 3.4, "fontWeight": "bold", "color": "#e8b13c"},
          "encoding": {"x": {"datum": 10.3, "type": "quantitative", "scale": {"domain": [-0.5, 198.5], "nice": false, "zero": false}}, "y": {"datum": -0.0001, "type": "quantitative", "scale": {"domain": [-0.00029, 0.00038], "nice": false, "zero": false}}}},
        {"data": {"values": [{}]}, "mark": {"type": "text", "text": "www.cobraforex.com", "align": "left", "baseline": "middle", "fontSize": 4.4, "fontWeight": "bold", "color": "#111111"},
          "encoding": {"x": {"datum": 29.8, "type": "quantitative", "scale": {"domain": [-0.5, 198.5], "nice": false, "zero": false}}, "y": {"datum": -0.00014, "type": "quantitative", "scale": {"domain": [-0.00029, 0.00038], "nice": false, "zero": false}}}},
        {"data": {"values": [{}]}, "mark": {"type": "text", "text": "ODL MetaTrader 4, © 2001-2009 MetaQuotes Software Corp.", "align": "left", "baseline": "middle", "fontSize": 3.1, "color": "#8a8a8a"},
          "encoding": {"x": {"datum": 0.2, "type": "quantitative", "scale": {"domain": [-0.5, 198.5], "nice": false, "zero": false}}, "y": {"datum": -0.00027, "type": "quantitative", "scale": {"domain": [-0.00029, 0.00038], "nice": false, "zero": false}}}},
        {"data": {"values": [{}]}, "mark": {"type": "text", "text": "Tokyo", "align": "left", "baseline": "middle", "fontSize": 3.8, "fontWeight": "bold", "color": "#4a6cff"},
          "encoding": {"x": {"datum": 182.3, "type": "quantitative", "scale": {"domain": [-0.5, 198.5], "nice": false, "zero": false}}, "y": {"datum": 0.00033, "type": "quantitative", "scale": {"domain": [-0.00029, 0.00038], "nice": false, "zero": false}}}},
        {"data": {"values": [{}]}, "mark": {"type": "text", "text": "(8 hours left)", "align": "left", "baseline": "middle", "fontSize": 3.5, "fontWeight": "bold", "color": "#4a6cff"},
          "encoding": {"x": {"datum": 189.4, "type": "quantitative", "scale": {"domain": [-0.5, 198.5], "nice": false, "zero": false}}, "y": {"datum": 0.00033, "type": "quantitative", "scale": {"domain": [-0.00029, 0.00038], "nice": false, "zero": false}}}},
        {"data": {"values": [{}]}, "mark": {"type": "rule", "color": "#22a022", "strokeWidth": 2},
          "encoding": {"x": {"datum": 184.2, "type": "quantitative", "scale": {"domain": [-0.5, 198.5], "nice": false, "zero": false}}, "x2": {"datum": 186.5}, "y": {"datum": 0.00015, "type": "quantitative", "scale": {"domain": [-0.00029, 0.00038], "nice": false, "zero": false}}}},
        {"data": {"values": [{}]}, "mark": {"type": "rule", "color": "#22a022", "strokeWidth": 2},
          "encoding": {"x": {"datum": 187.1, "type": "quantitative", "scale": {"domain": [-0.5, 198.5], "nice": false, "zero": false}}, "x2": {"datum": 189.4}, "y": {"datum": 0.00015, "type": "quantitative", "scale": {"domain": [-0.00029, 0.00038], "nice": false, "zero": false}}}},
        {"data": {"values": [{}]}, "mark": {"type": "rule", "color": "#c83232", "strokeWidth": 2},
          "encoding": {"x": {"datum": 190.1, "type": "quantitative", "scale": {"domain": [-0.5, 198.5], "nice": false, "zero": false}}, "x2": {"datum": 192.4}, "y": {"datum": 0.00015, "type": "quantitative", "scale": {"domain": [-0.00029, 0.00038], "nice": false, "zero": false}}}},
        {"data": {"values": [{}]}, "mark": {"type": "rule", "color": "#c83232", "strokeWidth": 2},
          "encoding": {"x": {"datum": 192.9, "type": "quantitative", "scale": {"domain": [-0.5, 198.5], "nice": false, "zero": false}}, "x2": {"datum": 195.2}, "y": {"datum": 0.00015, "type": "quantitative", "scale": {"domain": [-0.00029, 0.00038], "nice": false, "zero": false}}}},
        {"data": {"values": [{}]}, "mark": {"type": "text", "text": "1,4987", "align": "center", "baseline": "middle", "fontSize": 5.5, "fontWeight": "bold", "color": "#3fe03f"},
          "encoding": {"x": {"datum": 190.4, "type": "quantitative", "scale": {"domain": [-0.5, 198.5], "nice": false, "zero": false}}, "y": {"datum": 0.00008, "type": "quantitative", "scale": {"domain": [-0.00029, 0.00038], "nice": false, "zero": false}}}},
        {"data": {"values": [{}]}, "mark": {"type": "text", "text": "Trix Cross", "align": "left", "baseline": "middle", "fontSize": 3, "color": "#a8a8a8"},
          "encoding": {"x": {"datum": 184.2, "type": "quantitative", "scale": {"domain": [-0.5, 198.5], "nice": false, "zero": false}}, "y": {"datum": 0.00003, "type": "quantitative", "scale": {"domain": [-0.00029, 0.00038], "nice": false, "zero": false}}}},
        {"data": {"values": [{}]}, "mark": {"type": "rect", "color": "#157a15"},
          "encoding": {"x": {"datum": 194.6, "type": "quantitative", "scale": {"domain": [-0.5, 198.5], "nice": false, "zero": false}}, "x2": {"datum": 197.3}, "y": {"datum": 0.00005, "type": "quantitative", "scale": {"domain": [-0.00029, 0.00038], "nice": false, "zero": false}}, "y2": {"datum": 0.00001}}},
        {"data": {"values": [{}]}, "mark": {"type": "text", "text": "Bull", "align": "center", "baseline": "middle", "fontSize": 3, "fontWeight": "bold", "color": "#b8f8b8"},
          "encoding": {"x": {"datum": 196, "type": "quantitative", "scale": {"domain": [-0.5, 198.5], "nice": false, "zero": false}}, "y": {"datum": 0.00003, "type": "quantitative", "scale": {"domain": [-0.00029, 0.00038], "nice": false, "zero": false}}}},
        {"data": {"values": [{}]}, "mark": {"type": "text", "text": "Option", "align": "left", "baseline": "middle", "fontSize": 3, "color": "#a8a8a8"},
          "encoding": {"x": {"datum": 184.2, "type": "quantitative", "scale": {"domain": [-0.5, 198.5], "nice": false, "zero": false}}, "y": {"datum": -0.00002, "type": "quantitative", "scale": {"domain": [-0.00029, 0.00038], "nice": false, "zero": false}}}},
        {"data": {"values": [{}]}, "mark": {"type": "text", "text": "Action", "align": "left", "baseline": "middle", "fontSize": 3, "color": "#a8a8a8"},
          "encoding": {"x": {"datum": 184.2, "type": "quantitative", "scale": {"domain": [-0.5, 198.5], "nice": false, "zero": false}}, "y": {"datum": -0.00007, "type": "quantitative", "scale": {"domain": [-0.00029, 0.00038], "nice": false, "zero": false}}}},
        {"data": {"values": [{}]}, "mark": {"type": "rule", "color": "#666666", "strokeWidth": 0.6, "strokeDash": [1, 1]},
          "encoding": {"x": {"datum": 191.1, "type": "quantitative", "scale": {"domain": [-0.5, 198.5], "nice": false, "zero": false}}, "y": {"datum": 0.00005, "type": "quantitative", "scale": {"domain": [-0.00029, 0.00038], "nice": false, "zero": false}}, "y2": {"datum": -0.0001}}},
        {"data": {"values": [{}]}, "mark": {"type": "text", "text": "Candle", "align": "left", "baseline": "middle", "fontSize": 3.6, "fontWeight": "bold", "color": "#e5b53a"},
          "encoding": {"x": {"datum": 184.2, "type": "quantitative", "scale": {"domain": [-0.5, 198.5], "nice": false, "zero": false}}, "y": {"datum": -0.00014, "type": "quantitative", "scale": {"domain": [-0.00029, 0.00038], "nice": false, "zero": false}}}},
        {"data": {"values": [{}]}, "mark": {"type": "text", "text": ":   23:00:25", "align": "left", "baseline": "middle", "fontSize": 3.4, "fontWeight": "bold", "color": "#e5c03a"},
          "encoding": {"x": {"datum": 190.1, "type": "quantitative", "scale": {"domain": [-0.5, 198.5], "nice": false, "zero": false}}, "y": {"datum": -0.00014, "type": "quantitative", "scale": {"domain": [-0.00029, 0.00038], "nice": false, "zero": false}}}}
      ]
    }
  ]
}
